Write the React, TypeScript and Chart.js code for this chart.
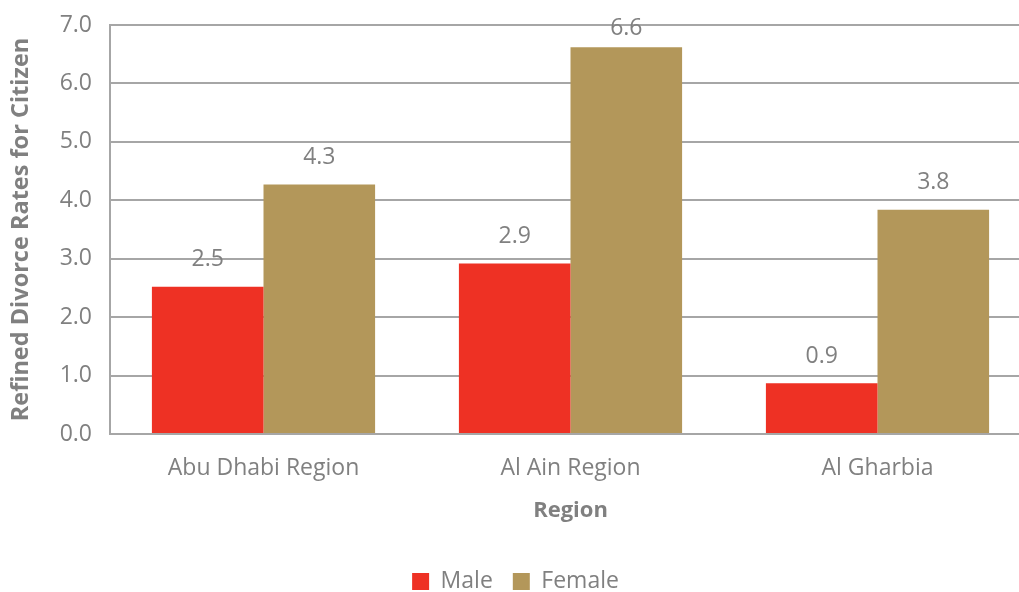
import React, { useEffect, useRef } from "react";
import { Chart, registerables } from "chart.js";

Chart.register(...registerables);

const categories = ["Abu Dhabi Region", "Al Ain Region", "Al Gharbia"];
const maleValues = [2.52, 2.92, 0.87];
const femaleValues = [4.27, 6.62, 3.84];
const yTicks = [0, 1, 2, 3, 4, 5, 6, 7];

const GRAY = "#808080";
const FONT = "'Open Sans', 'DejaVu Sans', sans-serif";

const labelPlugin = {
  id: "barLabels",
  afterDatasetsDraw(chart: any) {
    const ctx = chart.ctx;
    ctx.save();
    ctx.font = `23px ${FONT}`;
    ctx.fillStyle = GRAY;
    ctx.textAlign = "center";
    ctx.textBaseline = "middle";
    chart.data.datasets.forEach((ds: any, i: number) => {
      const meta = chart.getDatasetMeta(i);
      meta.data.forEach((el: any, j: number) => {
        const v = ds.data[j] as number;
        let y = el.y - 27;
        if (y < 28) y = 28;
        ctx.fillText(v.toFixed(1), el.x, y);
      });
    });
    ctx.restore();
  },
};

export default function App() {
  const ref = useRef<HTMLCanvasElement>(null);
  useEffect(() => {
    if (!ref.current) return;
    const chart = new Chart(ref.current, {
      type: "bar",
      data: {
        labels: categories,
        datasets: [
          { label: "Male", data: maleValues, backgroundColor: "#EE3124", borderWidth: 0 },
          { label: "Female", data: femaleValues, backgroundColor: "#B3975A", borderWidth: 0 },
        ],
      },
      options: {
        responsive: false,
        animation: false,
        layout: { padding: { top: 25, right: 9, left: 0, bottom: 0 } },
        datasets: { bar: { categoryPercentage: 0.727, barPercentage: 1 } },
        plugins: {
          legend: {
            position: "bottom",
            labels: {
              boxWidth: 17,
              boxHeight: 17,
              padding: 20,
              color: GRAY,
              font: { family: FONT, size: 23 },
            },
          },
          tooltip: { enabled: false },
        },
        scales: {
          x: {
            afterFit: (scale: any) => {
              scale.height = 116;
            },
            grid: { display: false, drawTicks: false },
            border: { display: true, color: "#A6A6A6", width: 2 },
            ticks: { color: GRAY, font: { family: FONT, size: 23 }, padding: 21 },
            title: {
              display: true,
              text: "Region",
              color: GRAY,
              font: { family: FONT, size: 22, weight: "bold" },
              padding: { top: 0, bottom: 26 },
            },
          },
          y: {
            min: 0,
            max: 7,
            afterBuildTicks: (scale: any) => {
              scale.ticks = yTicks.map((v) => ({ value: v }));
            },
            afterFit: (scale: any) => {
              scale.width = 110;
              scale.paddingTop = 0;
              scale.paddingBottom = 0;
            },
            grid: { color: "#A6A6A6", lineWidth: 2, drawTicks: false },
            border: { display: true, color: "#A6A6A6", width: 2 },
            ticks: {
              color: GRAY,
              font: { family: FONT, size: 23 },
              padding: 18,
              callback: (v: any) => Number(v).toFixed(1),
            },
            title: {
              display: true,
              text: "Refined Divorce Rates for Citizen",
              color: GRAY,
              font: { family: FONT, size: 23.5, weight: "bold" },
              padding: { top: 7, bottom: 0 },
            },
          },
        },
      },
      plugins: [labelPlugin],
    });
    return () => chart.destroy();
  }, []);
  return (
    <div
      style={{
        position: "fixed",
        left: 0,
        top: 0,
        width: 1019,
        height: 592,
        overflow: "hidden",
        background: "#fff",
      }}
    >
      <canvas ref={ref} width={1040} height={603} style={{ display: "block" }} />
    </div>
  );
}
